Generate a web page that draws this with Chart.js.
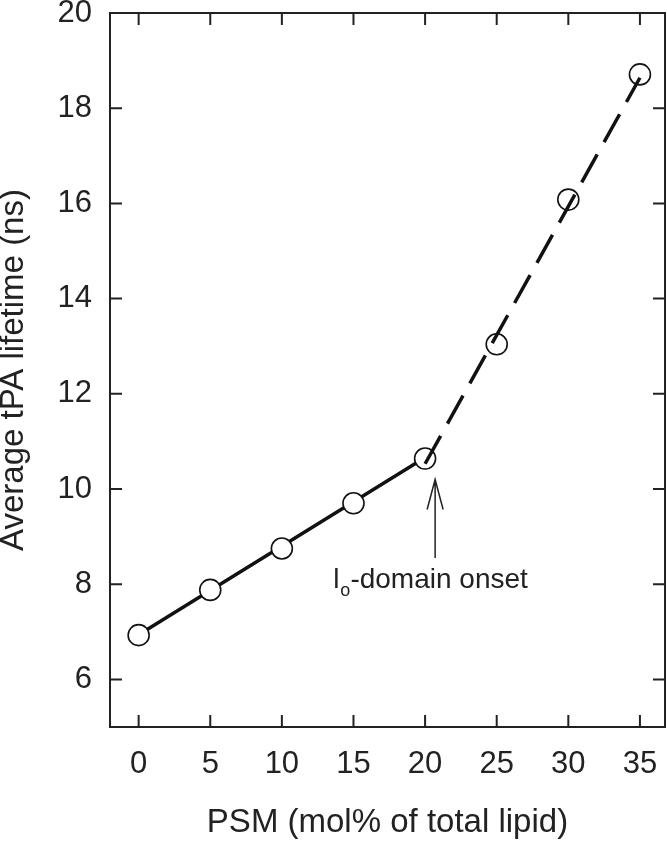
<!DOCTYPE html>
<html>
<head>
<meta charset="utf-8">
<script src="https://cdn.jsdelivr.net/npm/chart.js@4.4.1/dist/chart.umd.min.js"></script>
<style>
  html, body { margin: 0; padding: 0; background: #fff; }
  #wrap { width: 667px; height: 844px; }
</style>
</head>
<body>
<div id="wrap"><canvas id="myChart"></canvas></div>
<script>
// measured points
var psm = [0, 5, 10, 15, 20, 25, 30, 35];
var lifetime = [6.93, 7.88, 8.75, 9.7, 10.64, 13.04, 16.08, 18.71];

// fit lines (solid below onset, dashed above)
var solidX = [0, 20];
var solidY = [6.94, 10.66];
var dashX = [20, 35];
var dashY = [10.53, 18.64];

var xTicks = [0, 5, 10, 15, 20, 25, 30, 35];
var yTicks = [6, 8, 10, 12, 14, 16, 18, 20];

// annotation (data coords)
var arrowX = 20.7;
var arrowFrom = 8.55;
var arrowTo = 10.2;
var labelX = 13.58;
var labelY = 7.92;

function pts(xs, ys) {
    return xs.map(function(x, i) { return {x: x, y: ys[i]}; });
}

var ink = '#222222';
var font = "'Liberation Sans', Arial, sans-serif";

var framePlugin = {
    id: 'frame',
    afterDraw: function(chart) {
        var ctx = chart.ctx;
        var a = chart.chartArea;
        var xs = chart.scales.x, ys = chart.scales.y;
        var tl = 12;
        ctx.save();
        ctx.strokeStyle = ink;
        ctx.lineWidth = 2;
        ctx.strokeRect(a.left, a.top, a.right - a.left, a.bottom - a.top);
        ctx.beginPath();
        xTicks.forEach(function(v) {
            var px = xs.getPixelForValue(v);
            ctx.moveTo(px, a.bottom); ctx.lineTo(px, a.bottom - tl);
            ctx.moveTo(px, a.top); ctx.lineTo(px, a.top + tl);
        });
        yTicks.forEach(function(v) {
            var py = ys.getPixelForValue(v);
            ctx.moveTo(a.left, py); ctx.lineTo(a.left + tl, py);
            ctx.moveTo(a.right, py); ctx.lineTo(a.right - tl, py);
        });
        ctx.stroke();

        // arrow
        var ax = xs.getPixelForValue(arrowX);
        var y0 = ys.getPixelForValue(arrowFrom);
        var y1 = ys.getPixelForValue(arrowTo);
        ctx.lineWidth = 1.5;
        ctx.beginPath();
        ctx.moveTo(ax, y0); ctx.lineTo(ax, y1);
        ctx.moveTo(ax - 8, y1 + 30); ctx.lineTo(ax, y1); ctx.lineTo(ax + 8, y1 + 30);
        ctx.stroke();

        // label with subscript
        var lx = xs.getPixelForValue(labelX);
        var ly = ys.getPixelForValue(labelY);
        ctx.fillStyle = ink;
        ctx.textBaseline = 'alphabetic';
        ctx.textAlign = 'left';
        ctx.font = '28px ' + font;
        ctx.fillText('l', lx, ly);
        var w = ctx.measureText('l').width;
        ctx.font = '18px ' + font;
        ctx.fillText('o', lx + w + 1, ly + 8);
        w += ctx.measureText('o').width + 1;
        ctx.font = '28px ' + font;
        ctx.fillText('-domain onset', lx + w, ly);
        ctx.restore();
    }
};

var ctx = document.getElementById('myChart').getContext('2d');
var myChart = new Chart(ctx, {
    type: 'scatter',
    data: {
        datasets: [{
            label: 'dashed fit',
            data: pts(dashX, dashY),
            showLine: true,
            borderColor: '#111',
            borderWidth: 3.5,
            borderDash: [32, 14],
            pointRadius: 0
        }, {
            label: 'lifetime',
            data: pts(psm, lifetime),
            showLine: false,
            pointRadius: 10.5,
            pointBorderWidth: 1.6,
            pointBorderColor: '#111',
            pointBackgroundColor: '#fff'
        }, {
            label: 'solid fit',
            data: pts(solidX, solidY),
            showLine: true,
            borderColor: '#111',
            borderWidth: 3.5,
            pointRadius: 0
        }]
    },
    options: {
        responsive: true,
        maintainAspectRatio: false,
        animation: false,
        layout: { autoPadding: false, padding: { top: 13, right: 2, left: 0, bottom: 0 } },
        plugins: {
            legend: { display: false },
            tooltip: { enabled: false }
        },
        scales: {
            x: {
                type: 'linear',
                min: -2,
                max: 36.75,
                grid: { display: false },
                border: { display: false },
                afterBuildTicks: function(s) { s.ticks = xTicks.map(function(v) { return {value: v}; }); },
                afterFit: function(s) { s.height = 117; s.paddingLeft = 0; s.paddingRight = 0; },
                ticks: {
                    color: ink,
                    padding: 11,
                    maxRotation: 0,
                    font: { family: font, size: 31 }
                },
                title: {
                    display: true,
                    text: 'PSM (mol% of total lipid)',
                    color: ink,
                    padding: { top: 0, bottom: 1 },
                    font: { family: font, size: 33 }
                }
            },
            y: {
                type: 'linear',
                min: 5,
                max: 20,
                grid: { display: false },
                border: { display: false },
                afterBuildTicks: function(s) { s.ticks = yTicks.map(function(v) { return {value: v}; }); },
                afterFit: function(s) { s.width = 110; s.paddingTop = 0; s.paddingBottom = 0; },
                ticks: {
                    color: ink,
                    padding: 10,
                    font: { family: font, size: 31 }
                },
                title: {
                    display: true,
                    text: 'Average tPA lifetime (ns)',
                    color: ink,
                    padding: 0,
                    font: { family: font, size: 33, lineHeight: 0.82 }
                }
            }
        }
    },
    plugins: [framePlugin]
});
</script>
</body>
</html>
